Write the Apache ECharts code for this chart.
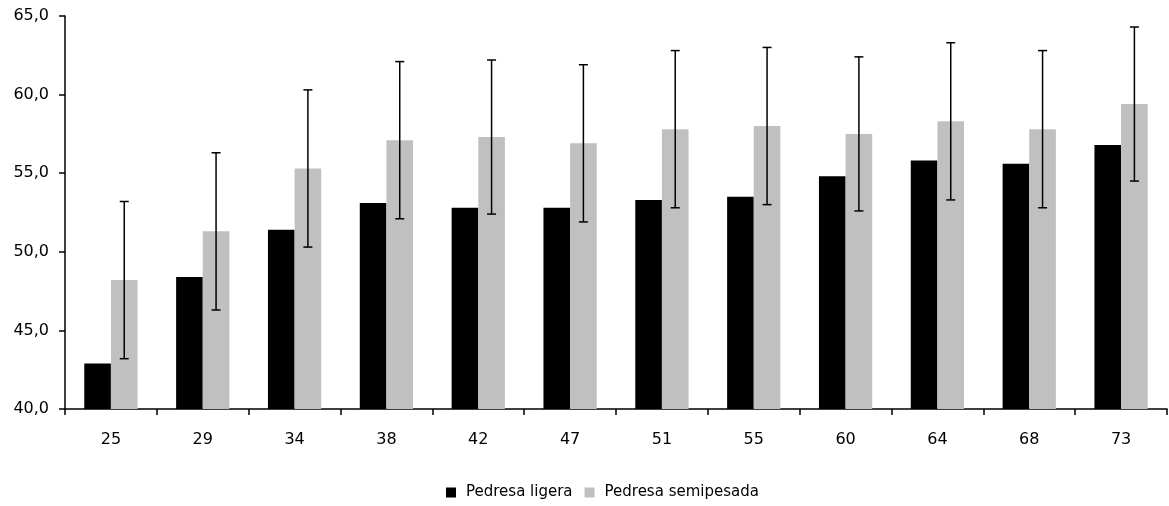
<!DOCTYPE html>
<html>
<head>
<meta charset="utf-8">
<script src="https://cdn.jsdelivr.net/npm/echarts@6/dist/echarts.min.js"></script>
<style>
html,body{margin:0;padding:0;background:#fff;}
#chart{width:1169px;height:506px;}
</style>
</head>
<body>
<div id="chart"></div>
<script>
var categories = ['25','29','34','38','42','47','51','55','60','64','68','73'];
var ligera = [42.9, 48.4, 51.4, 53.1, 52.8, 52.8, 53.3, 53.5, 54.8, 55.8, 55.6, 56.8];
var semipesada = [48.2, 51.3, 55.3, 57.1, 57.3, 56.9, 57.8, 58.0, 57.5, 58.3, 57.8, 59.4];
var semipesadaErr = [5.0, 5.0, 5.0, 5.0, 4.9, 5.0, 5.0, 5.0, 4.9, 5.0, 5.0, 4.9];
var seriesNames = ['Pedresa ligera', 'Pedresa semipesada'];

var errData = semipesada.map(function (v, i) { return [i, v - semipesadaErr[i], v + semipesadaErr[i]]; });
var catGap = 0.42;

var chart = echarts.init(document.getElementById('chart'), null, {renderer: 'canvas'});
chart.setOption({
  animation: false,
  backgroundColor: '#fff',
  grid: {left: 65, right: 2, top: 16, bottom: 97, containLabel: false},
  legend: {
    data: [
      {name: seriesNames[0], icon: 'rect'},
      {name: seriesNames[1], icon: 'rect'}
    ],
    top: 480, left: 441,
    itemWidth: 10, itemHeight: 10, itemGap: 12,
    textStyle: {fontFamily: 'DejaVu Sans', fontSize: 15, color: '#000', padding: [0, 0, 0, 5]}
  },
  xAxis: {
    type: 'category',
    data: categories,
    axisLine: {lineStyle: {color: '#000', width: 1.5}},
    axisTick: {show: true, length: 6, lineStyle: {color: '#000', width: 1.5}},
    axisLabel: {fontFamily: 'DejaVu Sans', fontSize: 16, color: '#000', margin: 23}
  },
  yAxis: {
    type: 'value', min: 40, max: 65, interval: 5,
    axisLine: {show: true, lineStyle: {color: '#000', width: 1.5}},
    axisTick: {show: true, length: 6, lineStyle: {color: '#000', width: 1.5}},
    splitLine: {show: false},
    axisLabel: {
      fontFamily: 'DejaVu Sans', fontSize: 16, color: '#000', margin: 16,
      formatter: function (v) { return v.toFixed(1).replace('.', ','); }
    }
  },
  series: [
    {name: seriesNames[0], type: 'bar', data: ligera, barGap: '0%', barCategoryGap: (catGap*100)+'%',
     itemStyle: {color: '#000'}},
    {name: seriesNames[1], type: 'bar', data: semipesada, barGap: '0%', barCategoryGap: (catGap*100)+'%',
     itemStyle: {color: '#C0C0C0'}},
    {
      name: 'err', type: 'custom', z: 10,
      data: errData,
      encode: {x: 0, y: [1, 2]},
      renderItem: function (params, api) {
        var idx = api.value(0);
        var lo = api.coord([idx, api.value(1)]);
        var hi = api.coord([idx, api.value(2)]);
        var band = api.size([1, 0])[0];
        var bw = band * (1 - catGap) / 2;
        var x = lo[0] + bw / 2;
        var cap = 4.5;
        var style = {stroke: '#000', lineWidth: 1.5, fill: null};
        return {
          type: 'group',
          children: [
            {type: 'line', shape: {x1: x, y1: hi[1], x2: x, y2: lo[1]}, style: style},
            {type: 'line', shape: {x1: x - cap, y1: hi[1], x2: x + cap, y2: hi[1]}, style: style},
            {type: 'line', shape: {x1: x - cap, y1: lo[1], x2: x + cap, y2: lo[1]}, style: style}
          ]
        };
      }
    }
  ]
});
</script>
</body>
</html>
